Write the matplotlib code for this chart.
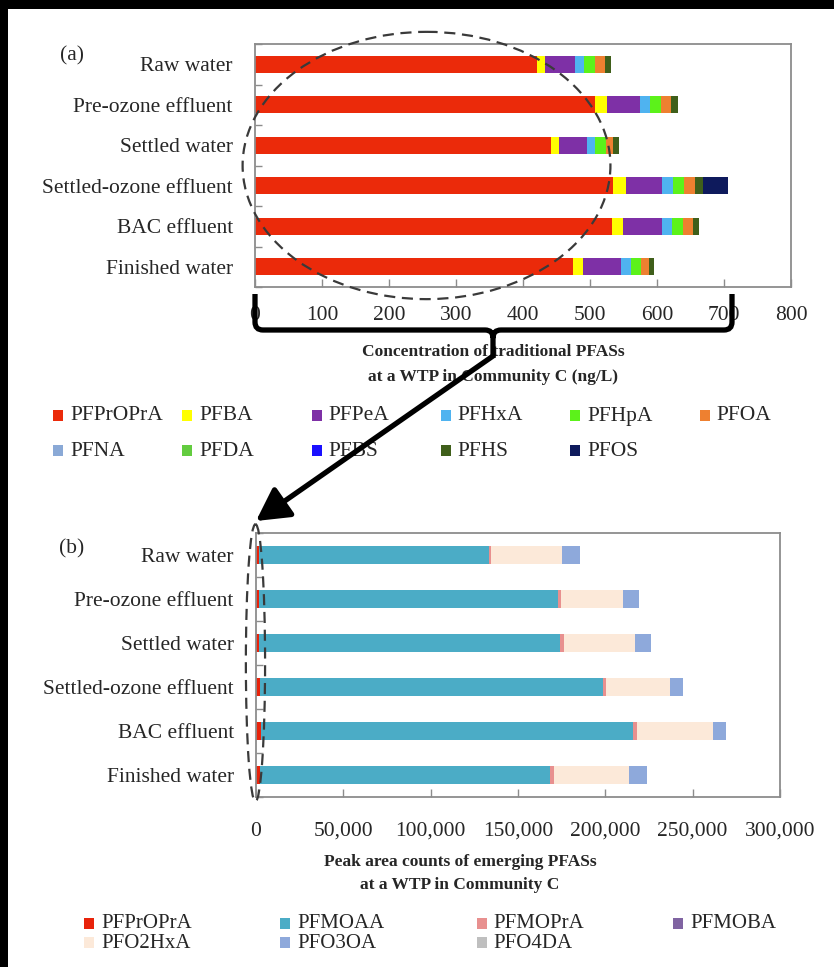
import numpy as np
import matplotlib
matplotlib.use("Agg")
import matplotlib.pyplot as plt
from matplotlib.patches import Ellipse, Rectangle, FancyArrowPatch, PathPatch
from matplotlib.path import Path

plt.rcParams["font.family"] = ["Liberation Serif", "DejaVu Serif"]

# ---------------- data ----------------
stages = ["Raw water", "Pre-ozone effluent", "Settled water",
          "Settled-ozone effluent", "BAC effluent", "Finished water"]

# (a) traditional PFASs, ng/L
trad_names = ["PFPrOPrA", "PFBA", "PFPeA", "PFHxA", "PFHpA", "PFOA",
              "PFNA", "PFDA", "PFBS", "PFHS", "PFOS"]
trad_colors = ["#EB2A0A", "#FFFF00", "#7E30A6", "#4FB3F0", "#5CF21A", "#EE8030",
               "#8AA9D6", "#63CC3F", "#1A10FF", "#3F5F1A", "#0E1A5C"]
PFPrOPrA_a = [421, 507, 442, 534, 533, 475]
PFBA = [12, 18, 12, 19, 16, 14]
PFPeA = [45, 49, 41, 55, 58, 58]
PFHxA = [13, 16, 13, 16, 16, 14]
PFHpA = [16, 16, 16, 17, 16, 15]
PFOA = [15, 15, 10, 16, 14, 12]
PFNA = [0, 0, 0, 0, 0, 0]
PFDA = [0, 0, 0, 0, 0, 0]
PFBS = [0, 0, 0, 0, 0, 0]
PFHS = [9, 10, 9, 12, 9, 7]
PFOS = [0, 0, 0, 37, 0, 0]
trad_values = [PFPrOPrA_a, PFBA, PFPeA, PFHxA, PFHpA, PFOA,
               PFNA, PFDA, PFBS, PFHS, PFOS]

# (b) emerging PFASs, peak area counts
emer_names = ["PFPrOPrA", "PFMOAA", "PFMOPrA", "PFMOBA",
              "PFO2HxA", "PFO3OA", "PFO4DA"]
emer_colors = ["#E8230B", "#4BACC6", "#E8908F", "#8064A2",
               "#FCE9D9", "#8EA9DB", "#BFBFBF"]
PFPrOPrA_b = [1500, 2000, 2000, 2500, 3000, 2500]
PFMOAA = [131800, 171000, 172100, 196300, 213100, 165900]
PFMOPrA = [1000, 1700, 2300, 1800, 2300, 2300]
PFMOBA = [0, 0, 0, 0, 0, 0]
PFO2HxA = [40800, 35600, 40300, 36200, 43100, 43100]
PFO3OA = [10400, 8700, 9700, 7400, 7500, 9800]
PFO4DA = [0, 0, 0, 0, 0, 0]
emer_values = [PFPrOPrA_b, PFMOAA, PFMOPrA, PFMOBA, PFO2HxA, PFO3OA, PFO4DA]

ticks_a = [0, 100, 200, 300, 400, 500, 600, 700, 800]
ticks_b = [0, 50000, 100000, 150000, 200000, 250000, 300000]

# ---------------- figure ----------------
W, H = 834, 967
fig = plt.figure(figsize=(W / 100, H / 100), dpi=100, facecolor="white")


def fxy(x, y):
    """pixel position (from top-left) -> figure fraction"""
    return x / W, 1 - y / H


TXT = "#262626"
GRAY = "#8C8C8C"
FS = 15.5


def style_axes(ax, ticks, labels):
    n = len(stages)
    ax.set_ylim(n - 0.5, -0.5)
    ax.set_yticks(np.arange(n))
    ax.set_yticklabels(stages, fontsize=FS, color=TXT)
    ax.set_yticks(np.arange(-0.5, n, 1), minor=True)
    ax.tick_params(axis="y", which="major", length=0, pad=16)
    ax.tick_params(axis="y", which="minor", direction="in", length=5,
                   width=1, color=GRAY)
    ax.set_xticks(ticks)
    ax.set_xticklabels(labels, fontsize=FS, color=TXT)
    ax.set_xlim(ticks[0], ticks[-1])
    ax.tick_params(axis="x", direction="in", length=6, width=1,
                   color=GRAY, pad=14)
    for s in ax.spines.values():
        s.set_color(GRAY)
        s.set_linewidth(1.3)


def stacked(ax, values, colors):
    y = np.arange(len(stages))
    left = np.zeros(len(stages))
    for vals, c in zip(values, colors):
        vals = np.asarray(vals, dtype=float)
        ax.barh(y, vals, left=left, height=0.42, color=c, edgecolor="none")
        left += vals


# panel (a)
ax_a = fig.add_axes([255 / W, 1 - 287 / H, (791 - 255) / W, (287 - 44) / H])
stacked(ax_a, trad_values, trad_colors)
style_axes(ax_a, ticks_a, [str(t) for t in ticks_a])

# panel (b)
ax_b = fig.add_axes([256 / W, 1 - 797 / H, (780 - 256) / W, (797 - 533) / H])
stacked(ax_b, emer_values, emer_colors)
style_axes(ax_b, ticks_b, [f"{t:,}" for t in ticks_b])
ax_b.tick_params(axis="x", pad=18)

# panel letters
fig.text(*fxy(72, 56), "(a)", fontsize=FS, color=TXT, ha="center", va="center")
fig.text(*fxy(72, 549), "(b)", fontsize=FS, color=TXT, ha="center", va="center")

# axis titles
for ytxt, line in zip([352, 377], ["Concentration of traditional PFASs",
                                   "at a WTP in Community C (ng/L)"]):
    fig.text(*fxy(493, ytxt), line, fontsize=12.5, fontweight="bold",
             color=TXT, ha="center", va="center")
for ytxt, line in zip([862, 885], ["Peak area counts of emerging PFASs",
                                   "at a WTP in Community C"]):
    fig.text(*fxy(460, ytxt), line, fontsize=12.5, fontweight="bold",
             color=TXT, ha="center", va="center")


# legends
def legend_grid(names, colors, x0, dx, ncol, rows_y, fs):
    for i, (nm, c) in enumerate(zip(names, colors)):
        col, row = i % ncol, i // ncol
        mx = x0 + col * dx
        my = rows_y[row]
        fx, fy = fxy(mx - 5, my + 5)
        fig.add_artist(Rectangle((fx, fy), 10 / W, 11 / H, transform=fig.transFigure,
                                 facecolor=c, edgecolor="none"))
        fig.text(*fxy(mx + 12, my), nm, fontsize=fs, color=TXT,
                 ha="left", va="center")


legend_grid(trad_names, trad_colors, 58, 129.3, 6, [416, 451], FS)
legend_grid(emer_names, emer_colors, 89, 196.3, 4, [924, 943], 15)

# highlight ellipses
ax_a.add_patch(Ellipse((256, 2.5), 549, 6.6, fill=False, edgecolor="#3A3A3A",
                       linewidth=1.6, linestyle=(0, (5, 3)), clip_on=False,
                       zorder=10))
ax_b.add_patch(Ellipse((-300, 2.45), 11000, 6.3, fill=False, edgecolor="#3A3A3A",
                       linewidth=1.6, linestyle=(0, (5, 3)), clip_on=False,
                       zorder=10))

# curly brace under the (a) axis
def P(x, y):
    return fxy(x, y)


verts = [P(255, 294), P(255, 322), P(255, 330), P(263, 330), P(485, 330),
         P(493, 330), P(493, 338), P(493, 358),
         P(732, 294), P(732, 322), P(732, 330), P(724, 330), P(501, 330),
         P(493, 330), P(493, 338)]
codes = [Path.MOVETO, Path.LINETO, Path.CURVE3, Path.CURVE3, Path.LINETO,
         Path.CURVE3, Path.CURVE3, Path.LINETO,
         Path.MOVETO, Path.LINETO, Path.CURVE3, Path.CURVE3, Path.LINETO,
         Path.CURVE3, Path.CURVE3]
fig.add_artist(PathPatch(Path(verts, codes), transform=fig.transFigure,
                         fill=False, edgecolor="black", linewidth=3.8,
                         capstyle="butt", joinstyle="miter", zorder=20))

# arrow from the brace to panel (b)
fig.add_artist(FancyArrowPatch(P(493, 356), P(256, 521), transform=fig.transFigure,
                               arrowstyle="-|>,head_length=1.1,head_width=0.6",
                               mutation_scale=18, linewidth=3.8, color="black",
                               shrinkA=0, shrinkB=0, zorder=21))

# dark frame on the left and top edges
fig.add_artist(Rectangle((0, 0), 8 / W, 1, transform=fig.transFigure,
                         facecolor="black", edgecolor="none", zorder=30))
fig.add_artist(Rectangle((0, 1 - 9 / H), 1, 9 / H, transform=fig.transFigure,
                         facecolor="black", edgecolor="none", zorder=30))

fig.savefig("out.png", dpi=100, facecolor="white")
